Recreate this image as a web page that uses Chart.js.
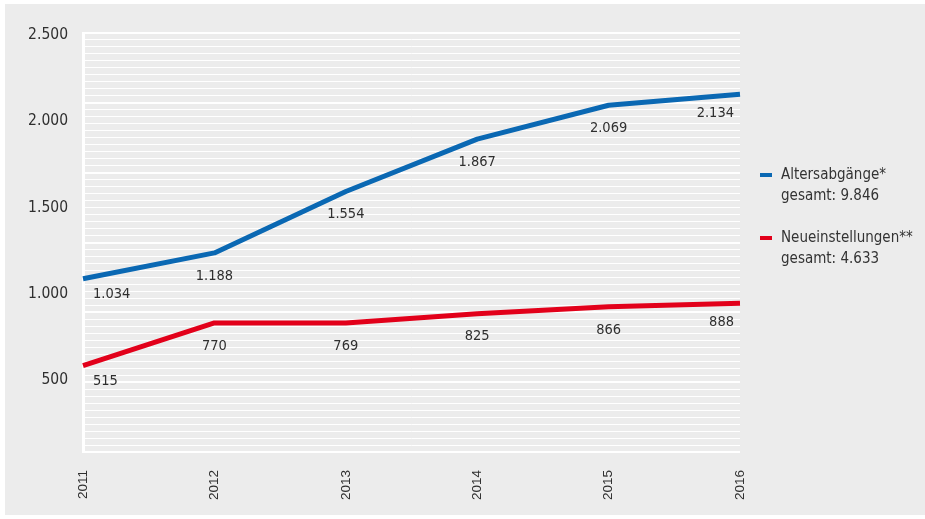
<!DOCTYPE html>
<html lang="de">
<head>
<meta charset="utf-8">
<title>Altersabgänge und Neueinstellungen 2011–2016</title>
<script src="https://cdn.jsdelivr.net/npm/chart.js@4/dist/chart.umd.min.js"></script>
<style>
  html, body { margin: 0; padding: 0; background: #fff; }
  body { width: 925px; height: 519px; position: relative; overflow: hidden;
         font-family: 'DejaVu Sans Condensed', 'DejaVu Sans', sans-serif; color: #333; }
  #box { position: absolute; left: 5px; top: 4px; width: 920px; height: 511px; background: #ececec; }
  #legend { position: absolute; left: 760px; top: 164px; font-size: 15px; line-height: 21px; }
  .item { position: relative; padding-left: 21px; margin-bottom: 21px; }
  .mark { position: absolute; left: 0; top: 9px; width: 12px; height: 4px; }
</style>
</head>
<body>
<div id="box"><canvas id="chart"></canvas></div>
<div id="legend"></div>
<script>
const years = ['2011', '2012', '2013', '2014', '2015', '2016'];
const altersabgaenge = [1034, 1188, 1554, 1867, 2069, 2134];
const neueinstellungen = [515, 770, 769, 825, 866, 888];
const seriesNames = ['Altersabgänge*', 'Neueinstellungen**'];
const seriesColors = ['#0a68b3', '#e2001a'];
const yTickLabels = [500, 1000, 1500, 2000, 2500];

// the printed tick labels sit on their own scale, slightly off the data scale
const LABEL_MIN = 82.6;
const LABEL_MAX = 2511.6;

const fmt = v => String(v).replace(/\B(?=(\d{3})+(?!\d))/g, '.');
const sum = a => a.reduce((s, v) => s + v, 0);

const series = [altersabgaenge, neueinstellungen];

// legend
const legend = document.getElementById('legend');
series.forEach((data, i) => {
  const item = document.createElement('div');
  item.className = 'item';
  const mark = document.createElement('span');
  mark.className = 'mark';
  mark.style.background = seriesColors[i];
  item.appendChild(mark);
  item.appendChild(document.createTextNode(seriesNames[i]));
  item.appendChild(document.createElement('br'));
  item.appendChild(document.createTextNode('gesamt: ' + fmt(sum(data))));
  legend.appendChild(item);
});

// value labels under each point
const valueLabels = {
  id: 'valueLabels',
  afterDatasetsDraw(chart) {
    const ctx = chart.ctx;
    ctx.save();
    ctx.font = '14.5px "DejaVu Sans Condensed", "DejaVu Sans", sans-serif';
    ctx.fillStyle = '#2f2f2f';
    ctx.textBaseline = 'middle';
    chart.data.datasets.forEach((ds, i) => {
      const meta = chart.getDatasetMeta(i);
      const last = meta.data.length - 1;
      meta.data.forEach((pt, j) => {
        let x = pt.x, y = pt.y + 23;
        ctx.textAlign = 'center';
        if (j === 0) { ctx.textAlign = 'left'; x += 10; y = pt.y + 16; }
        else if (j === last) { ctx.textAlign = 'right'; x -= 6; y = pt.y + 19; }
        ctx.fillText(fmt(ds.data[j]), x, y);
      });
    });
    ctx.restore();
  }
};

new Chart(document.getElementById('chart'), {
  type: 'line',
  data: {
    labels: years,
    datasets: series.map((data, i) => ({
      label: seriesNames[i],
      data: data,
      borderColor: seriesColors[i],
      backgroundColor: seriesColors[i],
      borderWidth: 5,
      pointRadius: 0,
      pointHoverRadius: 0,
      tension: 0,
      fill: false,
      borderJoinStyle: 'round',
      yAxisID: 'y'
    }))
  },
  options: {
    responsive: true,
    maintainAspectRatio: false,
    animation: false,
    devicePixelRatio: 1,
    layout: { padding: { left: 0, right: 185, top: 29, bottom: 0 } },
    plugins: {
      legend: { display: false },
      tooltip: { enabled: false }
    },
    scales: {
      x: {
        grid: { display: false, drawTicks: false },
        border: { display: false },
        afterFit: s => { s.height = 63; },
        ticks: {
          minRotation: 90,
          maxRotation: 90,
          padding: 18,
          color: '#2f2f2f',
          font: { family: '"Liberation Sans", Arial, sans-serif', size: 13.5 }
        }
      },
      y: {
        display: false,
        min: 0,
        max: 2500
      },
      yGrid: {
        position: 'left',
        weight: 0,
        min: 0,
        max: 60,
        afterFit: s => { s.width = 0; },
        ticks: { display: false, stepSize: 1, maxTicksLimit: 100 },
        grid: {
          color: '#ffffff',
          lineWidth: c => (c.tick && c.tick.value % 10 === 0) ? 2 : 1,
          drawTicks: false
        },
        border: { display: false }
      },
      yLabels: {
        position: 'left',
        weight: 1,
        min: LABEL_MIN,
        max: LABEL_MAX,
        afterFit: s => { s.width = 78; },
        afterBuildTicks: s => { s.ticks = yTickLabels.map(v => ({ value: v })); },
        grid: { display: false, drawTicks: false },
        border: { display: true, color: '#ffffff', width: 3 },
        ticks: {
          padding: 15,
          color: '#2f2f2f',
          font: { family: '"DejaVu Sans Condensed", "DejaVu Sans", sans-serif', size: 15.5 },
          callback: v => fmt(v)
        }
      }
    }
  },
  plugins: [valueLabels]
});
</script>
</body>
</html>
